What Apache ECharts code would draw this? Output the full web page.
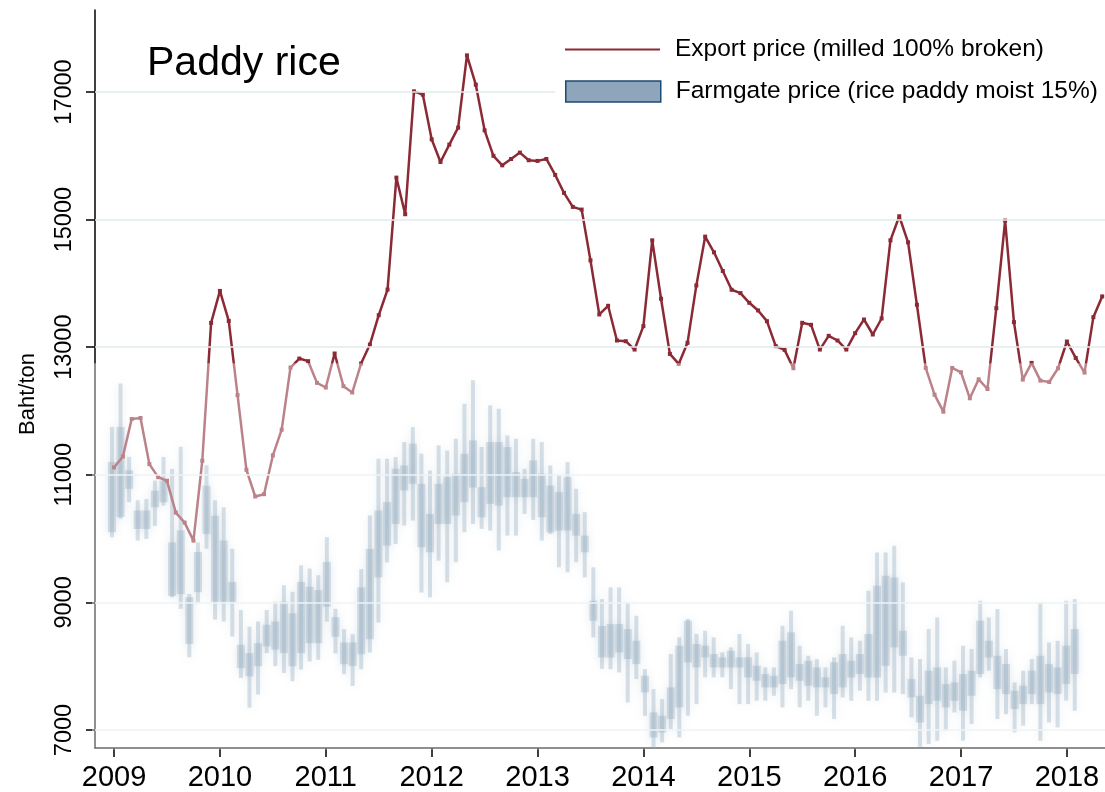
<!DOCTYPE html>
<html>
<head>
<meta charset="utf-8">
<title>Paddy rice</title>
<script src="https://cdn.jsdelivr.net/npm/echarts@6/dist/echarts.min.js"></script>
<style>
  html, body { margin: 0; padding: 0; background: #fff; }
  #main { width: 1105px; height: 792px; }
</style>
</head>
<body>
<div id="main"></div>
<script>
'use strict';

const FONT = '"Liberation Sans", Arial, Helvetica, sans-serif';

const yearTicks = [2009, 2010, 2011, 2012, 2013, 2014, 2015, 2016, 2017, 2018];
const priceTicks = [7000, 9000, 11000, 13000, 15000, 17000];

const exportName = 'Export price (milled 100% broken)';
const farmName = 'Farmgate price (rice paddy moist 15%)';

// export price, monthly, Jan 2009 .. May 2018
const exportStart = 2009;
const exportPrice = [
  11115, 11288, 11874, 11890, 11168, 10963, 10906, 10408, 10251, 9968, 11220, 13381,
  13882, 13412, 12248, 11079, 10660, 10696, 11304, 11707, 12681, 12822, 12781, 12441,
  12368, 12901, 12389, 12290, 12744, 13042, 13501, 13903, 15658, 15084, 17010, 16958,
  16258, 15903, 16175, 16441, 17574, 17115, 16399, 16000, 15850, 15950, 16050, 15930,
  15920, 15950, 15700, 15419, 15199, 15157, 14361, 13513, 13649, 13105, 13094, 12963,
  13330, 14675, 13759, 12895, 12738, 13068, 13968, 14733, 14487, 14194, 13900, 13848,
  13696, 13576, 13408, 13016, 12958, 12670, 13382, 13351, 12963, 13178, 13105, 12963,
  13220, 13434, 13199, 13450, 14675, 15052, 14644, 13665, 12675, 12256, 11989, 12675,
  12607, 12199, 12497, 12345, 13612, 14984, 13393, 12492, 12754, 12476, 12455, 12670,
  13089, 12832, 12602, 13471, 13796
];

// farmgate price boxes (min / q1 / q3 / max), one every ~4.2 weeks
const farmStart = 2008.98;
const farmStep = 0.0812;
const farmMin = [
  10020, 10310, 10570, 9970, 9995, 10200, 10520, 9080, 8900, 8140, 9000, 9840, 8730,
  8700, 8465, 7816, 7350, 7556, 8205, 8000, 7894, 7764, 7946, 8075, 8101, 8699,
  8200, 7874, 7691, 7953, 8214, 8686, 9628, 9916, 10204, 10283, 9157, 9078, 9654,
  9314, 9628, 10099, 10230, 10152, 10126, 9812, 10047, 10047, 10387, 10293, 9969, 10073,
  9550, 9471, 9628, 9393, 8450, 7960, 7953, 7903, 7432, 7798, 7223, 6701, 6806,
  7015, 6884, 7223, 7406, 7825, 7825, 7825, 7641, 7406, 7406, 7459, 7459, 7537,
  7354, 7641, 7354, 7459, 7223, 7354, 7171, 7511, 7458, 7615, 7458, 7458, 7589,
  7589, 7563, 7197, 6727, 6780, 6832, 6988, 7276, 6832, 7093, 7824, 7929, 7171,
  7249, 6962, 7067, 7406, 6832, 7119, 7041, 7459, 7302
];
const farmQ1 = [
  10100, 10340, 10780, 10150, 10150, 10490, 10570, 9100, 9130, 8350, 9160, 10070, 9010,
  9010, 9010, 7970, 7840, 8000, 8310, 8260, 8205, 8000, 8205, 8361, 8361, 8932,
  8460, 8031, 8005, 8188, 8424, 9393, 9890, 10230, 10754, 10859, 9864, 9785, 10230,
  10230, 10361, 10571, 10800, 10335, 10544, 10518, 10649, 10649, 10649, 10649, 10335, 10099,
  10126, 10126, 10047, 9785, 8712, 8136, 8136, 8216, 8112, 8033, 7589, 6884, 6962,
  7171, 7354, 8060, 7981, 8138, 7981, 7981, 7981, 7981, 7824, 7772, 7668, 7668,
  7720, 7824, 7772, 7694, 7668, 7668, 7563, 7668, 7824, 7877, 7824, 7824, 8007,
  8295, 8164, 7511, 7119, 7406, 7459, 7354, 7459, 7302, 7537, 7877, 8138, 7641,
  7563, 7328, 7406, 7563, 7406, 7589, 7563, 7720, 7877
];
const farmQ3 = [
  11200, 11750, 11070, 10440, 10440, 10750, 10910, 9940, 10130, 9080, 9790, 10830, 10360,
  9970, 9320, 8335, 8205, 8360, 8650, 8700, 9010, 8830, 9322, 9244, 9192, 9634,
  8770, 8372, 8372, 9236, 9838, 10440, 10571, 11094, 11147, 11487, 10859, 10387, 10859,
  10963, 11016, 11330, 11539, 10806, 11513, 11513, 11435, 11042, 10937, 11225, 11016, 10832,
  10728, 10963, 10387, 10047, 9026, 8630, 8660, 8660, 8582, 8399, 7850, 7276, 7223,
  7668, 8321, 8713, 8347, 8321, 8190, 8138, 8243, 8138, 8138, 8007, 7877, 7850,
  8399, 8530, 8033, 8086, 7981, 7824, 8060, 8190, 8086, 8190, 8504, 9261, 9418,
  9392, 8556, 7798, 7537, 7929, 7981, 7720, 7746, 7877, 7929, 8713, 8399, 8164,
  8033, 7615, 7694, 7929, 8164, 8033, 7981, 8321, 8582
];
const farmMax = [
  11750, 12430, 11280, 10600, 10620, 10910, 11280, 11090, 11440, 9130, 9940, 11150, 10600,
  10490, 9840, 8880, 8620, 8700, 8880, 9010, 9270, 9166, 9582, 9530, 9426, 10023,
  8900, 8581, 8502, 9523, 10361, 11251, 11251, 11277, 11513, 11749, 11330, 11068, 11461,
  11382, 11565, 12115, 12482, 11435, 12089, 12037, 11618, 11565, 11094, 11565, 11513, 11147,
  10990, 11199, 10780, 10414, 9550, 9052, 9236, 9235, 9000, 8791, 7955, 7641, 7485,
  8190, 8451, 8739, 8504, 8556, 8451, 8216, 8295, 8504, 8347, 8216, 7981, 7981,
  8634, 8869, 8321, 8164, 8112, 7981, 8138, 8634, 8451, 8399, 9183, 9784, 9784,
  9888, 9314, 8138, 8112, 8582, 8765, 7981, 8086, 8321, 8269, 9026, 8765, 8896,
  8269, 7746, 7929, 8112, 9000, 8373, 8399, 9026, 9052
];

// below this level the original has a pale wash over the plot
const fadeBelow = 12750;

const exportData = exportPrice.map((v, i) => [exportStart + i / 12, v]);
const farmData = farmMin.map((v, i) => [farmStart + i * farmStep, v, farmQ1[i], farmQ3[i], farmMax[i]]);

const lineColor = '#8b2a35';
const boxStyle = {
  fill: 'rgba(70,110,145,0.36)',
  shadowBlur: 8,
  shadowColor: 'rgba(70,110,145,0.5)'
};

function renderBox(params, api) {
  const x = api.value(0);
  const lo = api.coord([x, api.value(1)]);
  const q1 = api.coord([x, api.value(2)]);
  const q3 = api.coord([x, api.value(3)]);
  const hi = api.coord([x, api.value(4)]);
  return {
    type: 'group',
    children: [
      { type: 'rect', shape: { x: lo[0] - 2, y: hi[1], width: 4, height: lo[1] - hi[1] }, style: boxStyle },
      { type: 'rect', shape: { x: q1[0] - 4, y: q3[1], width: 8, height: q1[1] - q3[1] }, style: boxStyle }
    ]
  };
}

const legendText = { fontFamily: FONT, fontSize: 24.5, color: '#000', padding: [0, 0, 0, 10] };

const chart = echarts.init(document.getElementById('main'), null, { renderer: 'canvas' });

chart.setOption({
  animation: false,
  backgroundColor: '#fff',
  textStyle: { fontFamily: FONT, color: '#000' },
  title: {
    text: 'Paddy rice',
    left: 142,
    top: 38,
    textStyle: { fontFamily: FONT, fontSize: 41, fontWeight: 'normal', color: '#000' }
  },
  legend: [
    {
      data: [{ name: exportName, icon: 'rect', itemStyle: { color: lineColor } }],
      left: 555,
      top: 31,
      z: 20,
      padding: [6, 10, 6, 10],
      itemWidth: 95,
      itemHeight: 2,
      backgroundColor: '#fff',
      textStyle: legendText,
      selectedMode: false
    },
    {
      data: [{ name: farmName, icon: 'rect', itemStyle: { color: '#8fa5bb', borderColor: '#1c4a74', borderWidth: 1.5 } }],
      left: 555,
      top: 73,
      z: 20,
      padding: [6, 10, 6, 10],
      itemWidth: 95,
      itemHeight: 21,
      backgroundColor: '#fff',
      textStyle: legendText,
      selectedMode: false
    }
  ],
  grid: { left: 95, right: 0, top: 10, bottom: 44, containLabel: false },
  xAxis: {
    type: 'value',
    min: 2008.82,
    max: 2018.36,
    axisLine: { show: true, lineStyle: { color: '#000', width: 1.5 } },
    axisTick: { show: true, length: 9, customValues: yearTicks, lineStyle: { color: '#000', width: 1.5 } },
    axisLabel: {
      customValues: yearTicks,
      fontFamily: FONT,
      fontSize: 29,
      color: '#000',
      margin: 15,
      formatter: v => String(Math.round(v))
    },
    splitLine: { show: false }
  },
  yAxis: {
    type: 'value',
    min: 6718,
    max: 18285,
    name: 'Baht/ton',
    nameLocation: 'middle',
    nameGap: 56,
    nameTextStyle: { fontFamily: FONT, fontSize: 22, color: '#000', padding: [0, 30, 0, 0] },
    axisLine: { show: true, lineStyle: { color: '#000', width: 1.5 } },
    axisTick: { show: true, length: 9, customValues: priceTicks, lineStyle: { color: '#000', width: 1.5 } },
    axisLabel: {
      customValues: priceTicks,
      rotate: 90,
      fontFamily: FONT,
      fontSize: 23.5,
      color: '#000',
      margin: 18,
      formatter: v => String(Math.round(v))
    },
    splitLine: { show: false }
  },
  series: [
    {
      name: farmName,
      type: 'custom',
      renderItem: renderBox,
      data: farmData,
      clip: true,
      z: 1,
      itemStyle: { color: '#8fa5bb' },
      markLine: {
        silent: true,
        symbol: 'none',
        label: { show: false },
        lineStyle: { color: '#e2ebee', width: 1.5, type: 'solid' },
        data: priceTicks.map(v => ({ yAxis: v }))
      }
    },
    {
      name: exportName,
      type: 'line',
      data: exportData,
      symbol: 'rect',
      symbolSize: 4,
      showSymbol: true,
      itemStyle: { color: lineColor },
      lineStyle: { color: lineColor, width: 2.5 },
      z: 3
    }
  ]
});

// pale wash over the lower part of the plot
const fadeTop = chart.convertToPixel({ gridIndex: 0 }, [2009, fadeBelow])[1];
const plotBottom = chart.convertToPixel({ gridIndex: 0 }, [2009, 6718])[1];
chart.setOption({
  graphic: [{
    type: 'rect',
    silent: true,
    z: 100,
    shape: { x: 92, y: fadeTop, width: 1105 - 92, height: plotBottom - fadeTop + 1.5 },
    style: { fill: 'rgba(255,255,255,0.42)' }
  }]
});
</script>
</body>
</html>
